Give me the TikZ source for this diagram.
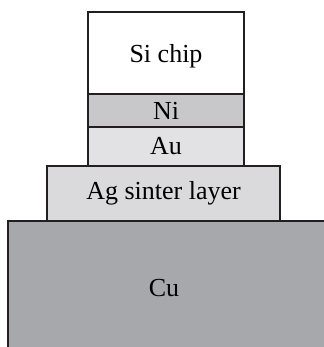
\documentclass[tikz,border=0pt]{standalone}
\usepackage{fontspec}
\setmainfont{Liberation Serif}
\usepackage{tikz}
\usetikzlibrary{positioning}

\definecolor{nigray}{HTML}{C8C8CA}
\definecolor{augray}{HTML}{E2E2E4}
\definecolor{aggray}{HTML}{DADADC}
\definecolor{cugray}{HTML}{A7A8AB}
\definecolor{edge}{HTML}{231F20}

\begin{document}
\begin{tikzpicture}[x=0.5pt,y=-0.5pt,node distance=0pt,
                    layer/.style={draw=edge,line width=1pt,rectangle,inner sep=0pt,outer sep=0pt,
                                  font=\fontsize{13}{15}\selectfont},
                    semithick]
                \useasboundingbox (0,0) rectangle (324,347);
                \fill[cugray] (8,221) rectangle (324,347);
                \draw [edge,line width=1pt] (8,347) -- (8,221) -- (324,221);
                \node [layer,fill=white,minimum width=78pt,minimum height=41pt,anchor=north west,
                       text height=12pt] (chip) at (88,12) {Si chip};
                \node [layer,fill=nigray,minimum width=78pt,minimum height=16.5pt] (ni) [below=of chip] {Ni};
                \node [layer,fill=augray,minimum width=78pt,minimum height=19.5pt] (au) [below=of ni] {Au};
                \node [layer,fill=aggray,minimum width=116.5pt,minimum height=27.5pt,xshift=-1.25pt] (ag) [below=of au] {Ag sinter layer};
                \node [font=\fontsize{13}{15}\selectfont] (cu) at (164,288) {Cu};
            \end{tikzpicture}
\end{document}
